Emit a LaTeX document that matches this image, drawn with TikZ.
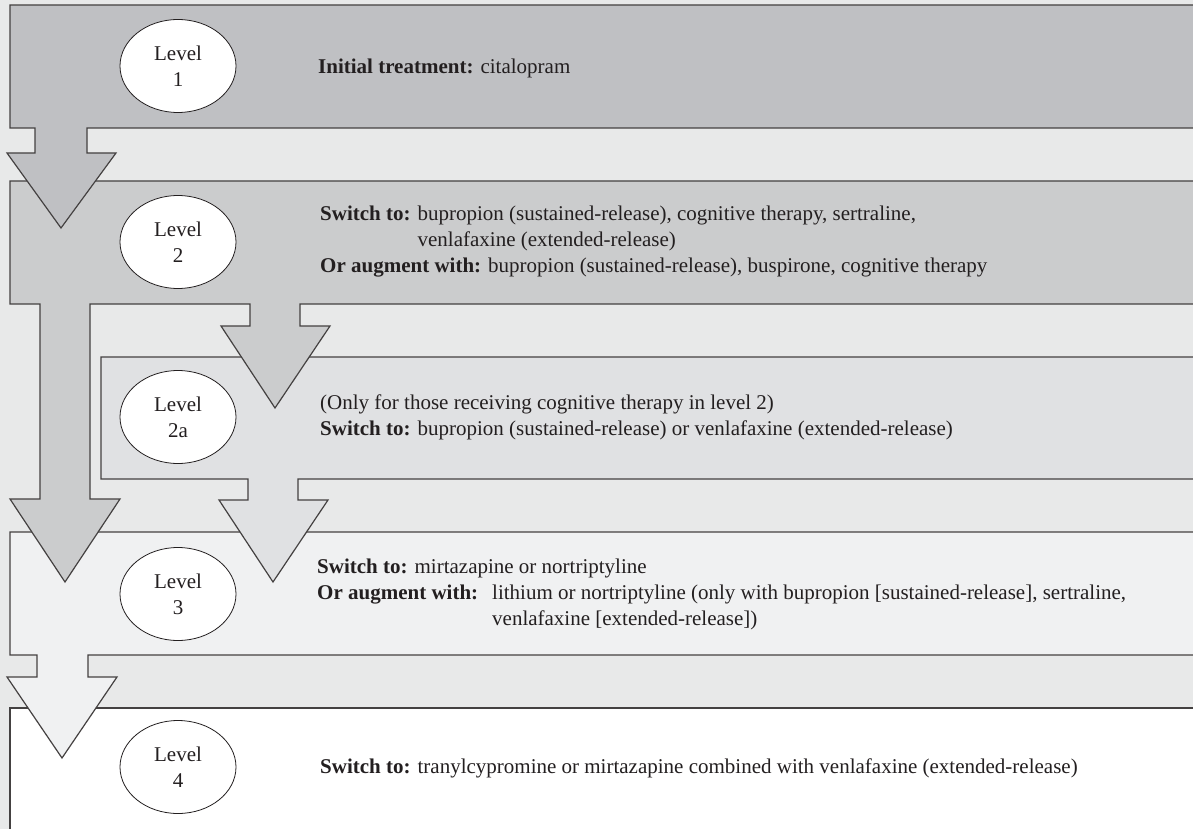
\documentclass[tikz,border=0pt]{standalone}
\usepackage{fontspec}
\setmainfont{Liberation Serif}
\usetikzlibrary{shapes.geometric}

\definecolor{bgcol}{HTML}{E8E9E9}
\definecolor{lvlone}{HTML}{BFC0C3}
\definecolor{lvltwo}{HTML}{CBCCCD}
\definecolor{lvltwoa}{HTML}{E0E1E3}
\definecolor{lvlthree}{HTML}{F0F1F2}
\definecolor{inkcol}{HTML}{231F20}

\begin{document}
\begin{tikzpicture}[
    x=1pt, y=-1pt,
    panel/.style={draw=inkcol!85, line width=1.2pt, line join=miter},
    level/.style={ellipse, draw=inkcol, fill=white, line width=0.8pt,
        minimum width=116pt, minimum height=93pt, inner sep=0pt,
        align=center, text=inkcol, font=\fontsize{21}{26}\selectfont},
    txt/.style={anchor=west, inner sep=0pt, align=left, text=inkcol,
        font=\fontsize{21}{26}\selectfont}
]

    \useasboundingbox (0,0) rectangle (1193,829);
    \fill[bgcol] (0,0) rectangle (1193,829);
    \clip (0,0) rectangle (1193,829);

    % panels, lowest first so that each arrow lies on the panel below
    \draw[panel, fill=white] (10,708) rectangle (1210,850);

    \draw[panel, fill=lvlthree] (10,532) -- (1210,532) -- (1210,655)
        -- (88,655) -- (88,677) -- (117,677) -- (62,758) -- (7,677)
        -- (37,677) -- (37,655) -- (10,655) -- cycle;

    \draw[panel, fill=lvltwoa] (101,357) -- (1210,357) -- (1210,479)
        -- (298,479) -- (298,500) -- (328,500) -- (273,582) -- (219,500)
        -- (248,500) -- (248,479) -- (101,479) -- cycle;

    \draw[panel, fill=lvltwo] (10,181) -- (1210,181) -- (1210,304)
        -- (300,304) -- (300,326) -- (330,326) -- (275,408) -- (221,326)
        -- (250,326) -- (250,304) -- (90,304) -- (90,499) -- (120,499)
        -- (65,582) -- (10,499) -- (40,499) -- (40,304) -- (10,304) -- cycle;

    \draw[panel, fill=lvlone] (10,5) -- (1210,5) -- (1210,128)
        -- (87,128) -- (87,153) -- (116,153) -- (61,228) -- (7,153)
        -- (35,153) -- (35,128) -- (10,128) -- cycle;

    % level labels
    \node[level] (lvl_1) at (178,66) {Level\\1};
    \node[level] (lvl_2) at (178,242) {Level\\2};
    \node[level] (lvl_2a) at (178,417) {Level\\2a};
    \node[level] (lvl_3) at (178,594) {Level\\3};
    \node[level] (lvl_4) at (178,767) {Level\\4};

    % treatments
    \node[txt] (txt_1) at (318,68) {\textbf{Initial treatment:} citalopram};
    \node[txt] (txt_2) at (320,242) {\textbf{Switch to:} bupropion (sustained-release), cognitive therapy, sertraline,\\
        \hphantom{\textbf{Switch to:} }venlafaxine (extended-release)\\
        \textbf{Or augment with:} bupropion (sustained-release), buspirone, cognitive therapy};
    \node[txt] (txt_2a) at (320,417) {(Only for those receiving cognitive therapy in level 2)\\
        \textbf{Switch to:} bupropion (sustained-release) or venlafaxine (extended-release)};
    \node[txt] (txt_3) at (317,594) {\textbf{Switch to:} mirtazapine or nortriptyline\\
        \textbf{Or augment with:}\hspace{14pt}lithium or nortriptyline (only with bupropion [sustained-release], sertraline,\\
        \hphantom{\textbf{Or augment with:}\hspace{14pt}}venlafaxine [extended-release])};
    \node[txt] (txt_4) at (320,768) {\textbf{Switch to:} tranylcypromine or mirtazapine combined with venlafaxine (extended-release)};

\end{tikzpicture}
\end{document}
